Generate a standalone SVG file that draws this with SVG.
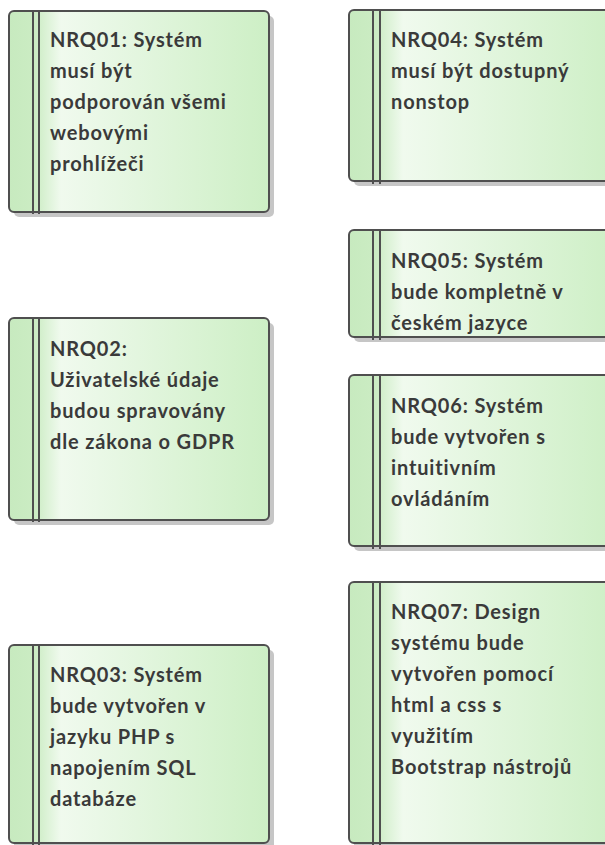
<svg xmlns="http://www.w3.org/2000/svg" width="605" height="845" viewBox="0 0 605 845">
  <style>
    .shadow { fill: #c6c6c6; }
    .body { fill: url(#reqFill); stroke: #4f4f4f; stroke-width: 2; }
    .bar { stroke: #4f4f4f; stroke-width: 2; fill: none; }
    .label { font-family: "Lato", "Liberation Sans", sans-serif; font-weight: bold; font-size: 20px; letter-spacing: 0.85px; fill: #3a3a3a; }
  </style>
  <defs>
    <linearGradient id="reqFill" x1="0" y1="0" x2="1" y2="0">
      <stop offset="0" stop-color="#c7eabf"/>
      <stop offset="0.1" stop-color="#cbecc3"/>
      <stop offset="0.2" stop-color="#f0faee"/>
      <stop offset="1" stop-color="#cdefc5"/>
    </linearGradient>
  </defs>

  <rect width="605" height="845" fill="#ffffff"/>

  <!-- NRQ01 -->
  <g id="nrq01">
    <rect class="shadow" x="14" y="16" width="260" height="201" rx="5"/>
    <rect class="body" x="9" y="11" width="260" height="201" rx="5"/>
    <path class="bar" d="M33 11V214M39 11V214"/>
    <text class="label" x="50" y="47">
      <tspan x="50">NRQ01: Systém</tspan>
      <tspan x="50" dy="31">musí být</tspan>
      <tspan x="50" dy="31">podporován všemi</tspan>
      <tspan x="50" dy="31">webovými</tspan>
      <tspan x="50" dy="31">prohlížeči</tspan>
    </text>
  </g>

  <!-- NRQ02 -->
  <g id="nrq02">
    <rect class="shadow" x="14" y="323" width="260" height="202" rx="5"/>
    <rect class="body" x="9" y="318" width="260" height="202" rx="5"/>
    <path class="bar" d="M33 318V522M39 318V522"/>
    <text class="label" x="50" y="356">
      <tspan x="50">NRQ02:</tspan>
      <tspan x="50" dy="31">Uživatelské údaje</tspan>
      <tspan x="50" dy="31">budou spravovány</tspan>
      <tspan x="50" dy="31">dle zákona o GDPR</tspan>
    </text>
  </g>

  <!-- NRQ03 -->
  <g id="nrq03">
    <rect class="shadow" x="14" y="650" width="260" height="199" rx="5"/>
    <rect class="body" x="9" y="645" width="260" height="198" rx="5"/>
    <path class="bar" d="M33 645V845M39 645V845"/>
    <text class="label" x="50" y="682">
      <tspan x="50">NRQ03: Systém</tspan>
      <tspan x="50" dy="31">bude vytvořen v</tspan>
      <tspan x="50" dy="31">jazyku PHP s</tspan>
      <tspan x="50" dy="31">napojením SQL</tspan>
      <tspan x="50" dy="31">databáze</tspan>
    </text>
  </g>

  <!-- NRQ04 -->
  <g id="nrq04">
    <rect class="shadow" x="354" y="15" width="270" height="171" rx="5"/>
    <rect class="body" x="349" y="10" width="270" height="171" rx="5"/>
    <path class="bar" d="M373 10V184M380 10V184"/>
    <text class="label" x="391" y="47">
      <tspan x="391">NRQ04: Systém</tspan>
      <tspan x="391" dy="31">musí být dostupný</tspan>
      <tspan x="391" dy="31">nonstop</tspan>
    </text>
  </g>

  <!-- NRQ05 -->
  <g id="nrq05">
    <rect class="shadow" x="354" y="235" width="270" height="107" rx="5"/>
    <rect class="body" x="349" y="230" width="270" height="107" rx="5"/>
    <path class="bar" d="M373 230V340M380 230V340"/>
    <text class="label" x="391" y="268">
      <tspan x="391">NRQ05: Systém</tspan>
      <tspan x="391" dy="31">bude kompletně v</tspan>
      <tspan x="391" dy="31">českém jazyce</tspan>
    </text>
  </g>

  <!-- NRQ06 -->
  <g id="nrq06">
    <rect class="shadow" x="354" y="380" width="270" height="171" rx="5"/>
    <rect class="body" x="349" y="375" width="270" height="171" rx="5"/>
    <path class="bar" d="M373 375V549M380 375V549"/>
    <text class="label" x="391" y="413">
      <tspan x="391">NRQ06: Systém</tspan>
      <tspan x="391" dy="31">bude vytvořen s</tspan>
      <tspan x="391" dy="31">intuitivním</tspan>
      <tspan x="391" dy="31">ovládáním</tspan>
    </text>
  </g>

  <!-- NRQ07 -->
  <g id="nrq07">
    <rect class="shadow" x="354" y="587" width="270" height="262" rx="5"/>
    <rect class="body" x="349" y="582" width="270" height="261" rx="5"/>
    <path class="bar" d="M373 582V845M380 582V845"/>
    <text class="label" x="391" y="619">
      <tspan x="391">NRQ07: Design</tspan>
      <tspan x="391" dy="31">systému bude</tspan>
      <tspan x="391" dy="31">vytvořen pomocí</tspan>
      <tspan x="391" dy="31">html a css s</tspan>
      <tspan x="391" dy="31">využitím</tspan>
      <tspan x="391" dy="31">Bootstrap nástrojů</tspan>
    </text>
  </g>

  <!-- no connectors between requirements -->
  <g id="connectors"/>
</svg>
